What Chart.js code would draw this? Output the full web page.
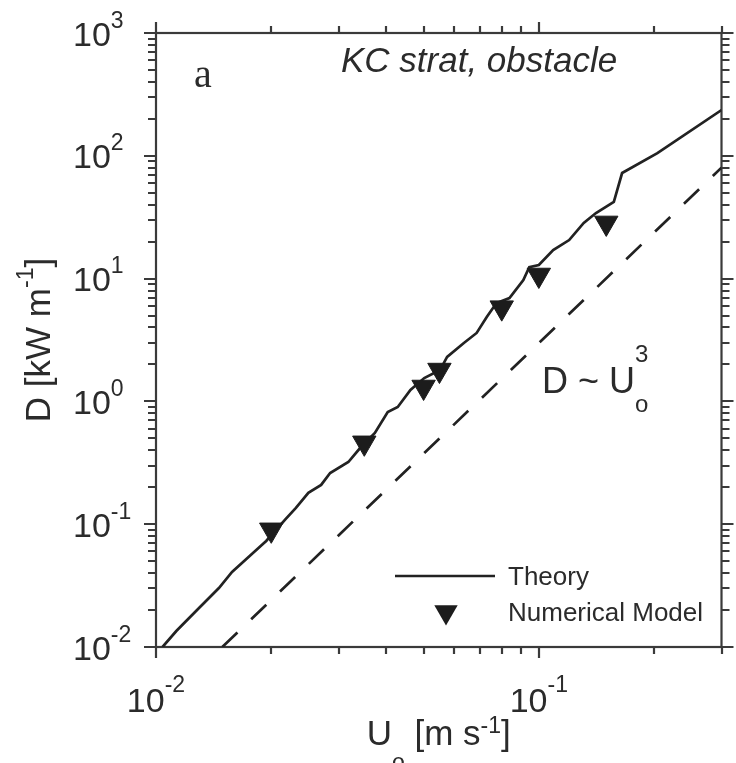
<!DOCTYPE html>
<html>
<head>
<meta charset="utf-8">
<title>KC strat, obstacle</title>
<script src="https://cdn.jsdelivr.net/npm/chart.js@4.4.1/dist/chart.umd.min.js"></script>
<style>
  html, body { margin: 0; padding: 0; background: #fff; }
  #wrap { width: 736px; height: 763px; }
</style>
</head>
<body>
<div id="wrap"><canvas id="dissipation"></canvas></div>
<script>
// theory curve: dissipation D [kW/m] against flow speed Uo [m/s]
const theoryU = [0.0104, 0.0113, 0.0128, 0.0146, 0.0158, 0.0178, 0.0194, 0.0218, 0.0232, 0.0250,
  0.0270, 0.0285, 0.0318, 0.0343, 0.0373, 0.0403, 0.0428, 0.0462, 0.0502, 0.0552,
  0.0576, 0.0637, 0.0688, 0.0731, 0.0775, 0.0838, 0.0911, 0.0944, 0.100, 0.109,
  0.120, 0.131, 0.141, 0.157, 0.165, 0.204, 0.300];
const theoryD = [0.0100, 0.0135, 0.0200, 0.0302, 0.0408, 0.0572, 0.0730, 0.110, 0.136, 0.180,
  0.209, 0.261, 0.321, 0.425, 0.553, 0.820, 0.900, 1.24, 1.55, 1.80,
  2.30, 2.99, 3.61, 4.87, 6.33, 6.95, 9.74, 12.4, 12.9, 17.1,
  20.6, 28.4, 34.2, 42.1, 72.4, 105, 236];

// numerical model runs
const modelU = [0.020, 0.035, 0.050, 0.055, 0.080, 0.100, 0.150];
const modelD = [0.090, 0.46, 1.31, 1.80, 5.8, 10.7, 28.4];

// D ~ Uo^3 reference slope
const cubeU = [0.0149, 0.30];
const cubeD = [0.010, 80];

// axis decades and their exponent labels
const xMajor = [0.01, 0.1];
const xExp = ['-2', '-1'];
const yMajor = [0.01, 0.1, 1, 10, 100, 1000];
const yExp = ['-2', '-1', '0', '1', '2', '3'];

const FONT = "'Liberation Sans', Arial, Helvetica, sans-serif";
const INK = '#222';
const TEXT = '#2b2b2b';

function pairs(xs, ys) {
  return xs.map((x, i) => ({ x: x, y: ys[i] }));
}

function minorTicks(majors, min, max) {
  const out = [];
  majors.forEach(d => {
    for (let k = 2; k <= 9; k++) {
      const v = d * k;
      if (v >= min * 0.999 && v <= max * 1.001) out.push(v);
    }
  });
  return out;
}

// draws a row of text runs, each with its own size and vertical shift
function drawRuns(ctx, x, y, runs, align) {
  let total = 0;
  runs.forEach(r => {
    ctx.font = (r.style || '') + ' ' + r.size + 'px ' + (r.family || FONT);
    r.w = ctx.measureText(r.t).width;
    if (!r.stack) total += r.w;
  });
  let cx = align === 'center' ? x - total / 2 : x;
  ctx.textAlign = 'left';
  ctx.textBaseline = 'alphabetic';
  runs.forEach(r => {
    ctx.font = (r.style || '') + ' ' + r.size + 'px ' + (r.family || FONT);
    ctx.fillText(r.t, cx, y + (r.dy || 0));
    if (!r.stack) cx += r.w;
  });
}

const framePlugin = {
  id: 'frame',
  beforeDatasetsDraw(chart) {
    const { ctx, chartArea: a, scales } = chart;
    const xs = scales.x, ys = scales.y;
    ctx.save();
    ctx.strokeStyle = '#3a3a3a';
    ctx.lineWidth = 2.2;
    ctx.strokeRect(a.left, a.top, a.right - a.left, a.bottom - a.top);

    ctx.beginPath();
    const xTick = (v, len) => {
      const px = Math.round(xs.getPixelForValue(v));
      ctx.moveTo(px, a.bottom); ctx.lineTo(px, a.bottom + len);
      ctx.moveTo(px, a.top); ctx.lineTo(px, a.top - len);
    };
    const yTick = (v, len) => {
      const py = Math.round(ys.getPixelForValue(v));
      ctx.moveTo(a.left, py); ctx.lineTo(a.left - len, py);
      ctx.moveTo(a.right, py); ctx.lineTo(a.right + len, py);
    };
    xMajor.forEach(v => xTick(v, 11));
    minorTicks(xMajor, xs.min, xs.max).forEach(v => xTick(v, 7));
    yMajor.forEach(v => yTick(v, 12));
    minorTicks(yMajor.slice(0, -1), ys.min, ys.max).forEach(v => yTick(v, 8));
    ctx.stroke();
    ctx.restore();
  },
  afterDraw(chart) {
    const { ctx, chartArea: a, scales } = chart;
    const xs = scales.x, ys = scales.y;
    ctx.save();
    ctx.fillStyle = TEXT;

    // tick labels as powers of ten
    xMajor.forEach((v, i) => {
      drawRuns(ctx, xs.getPixelForValue(v), 712, [
        { t: '10', size: 34 },
        { t: xExp[i], size: 23, dy: -20 }
      ], 'center');
    });
    yMajor.forEach((v, i) => {
      drawRuns(ctx, 73, ys.getPixelForValue(v) + 12.5, [
        { t: '10', size: 34 },
        { t: yExp[i], size: 23, dy: -18 }
      ], 'left');
    });

    // axis titles
    drawRuns(ctx, (a.left + a.right) / 2, 745, [
      { t: 'U', size: 35 },
      { t: 'o', size: 23, dy: 25 },
      { t: ' [m s', size: 35 },
      { t: '-1', size: 23, dy: -12 },
      { t: ']', size: 35 }
    ], 'center');

    ctx.save();
    ctx.translate(50, (a.top + a.bottom) / 2);
    ctx.rotate(-Math.PI / 2);
    drawRuns(ctx, 0, 0, [
      { t: 'D [kW m', size: 35 },
      { t: '-1', size: 23, dy: -17 },
      { t: ']', size: 35 }
    ], 'center');
    ctx.restore();

    // panel annotations
    drawRuns(ctx, 341, 72, [{ t: 'KC strat, obstacle', size: 35, style: 'italic' }], 'left');
    drawRuns(ctx, 194, 87, [{ t: 'a', size: 40, family: "'Liberation Serif', 'Times New Roman', serif" }], 'left');
    drawRuns(ctx, 542, 393, [
      { t: 'D ~ U', size: 36 },
      { t: '3', size: 24, dy: -31, stack: true },
      { t: 'o', size: 24, dy: 19 }
    ], 'left');

    // legend
    const theory = chart.data.datasets[1];
    const model = chart.data.datasets[2];
    ctx.strokeStyle = theory.borderColor;
    ctx.lineWidth = theory.borderWidth;
    ctx.beginPath();
    ctx.moveTo(395, 576); ctx.lineTo(495, 576);
    ctx.stroke();
    const r = model.pointRadius;
    const cx = 446, cy = 612;
    ctx.fillStyle = model.backgroundColor;
    ctx.beginPath();
    ctx.moveTo(cx, cy + r);
    ctx.lineTo(cx - Math.sin(Math.PI / 3) * r, cy - r / 2);
    ctx.lineTo(cx + Math.sin(Math.PI / 3) * r, cy - r / 2);
    ctx.closePath();
    ctx.fill();

    ctx.fillStyle = TEXT;
    drawRuns(ctx, 508, 585, [{ t: theory.label, size: 26 }], 'left');
    drawRuns(ctx, 508, 621, [{ t: model.label, size: 26 }], 'left');
    ctx.restore();
  }
};

new Chart(document.getElementById('dissipation'), {
  type: 'scatter',
  data: {
    datasets: [
      {
        label: 'D ~ Uo^3',
        data: pairs(cubeU, cubeD),
        showLine: true,
        borderColor: INK,
        borderWidth: 2.7,
        borderDash: [21, 19],
        pointRadius: 0,
        order: 3
      },
      {
        label: 'Theory',
        data: pairs(theoryU, theoryD),
        showLine: true,
        borderColor: INK,
        borderWidth: 2.7,
        pointRadius: 0,
        tension: 0,
        order: 2
      },
      {
        label: 'Numerical Model',
        data: pairs(modelU, modelD),
        showLine: false,
        pointStyle: 'triangle',
        rotation: 180,
        pointRadius: 13.5,
        pointHoverRadius: 13.5,
        backgroundColor: '#1c1c1c',
        borderColor: '#1c1c1c',
        borderWidth: 1,
        order: 1
      }
    ]
  },
  options: {
    responsive: true,
    maintainAspectRatio: false,
    animation: false,
    events: [],
    layout: { padding: { left: 156, right: 8, top: 33, bottom: 116 } },
    plugins: {
      legend: { display: false },
      tooltip: { enabled: false }
    },
    scales: {
      x: { type: 'logarithmic', min: 0.01, max: 0.3, display: false },
      y: { type: 'logarithmic', min: 0.01, max: 1000, display: false }
    }
  },
  plugins: [framePlugin]
});
</script>
</body>
</html>
